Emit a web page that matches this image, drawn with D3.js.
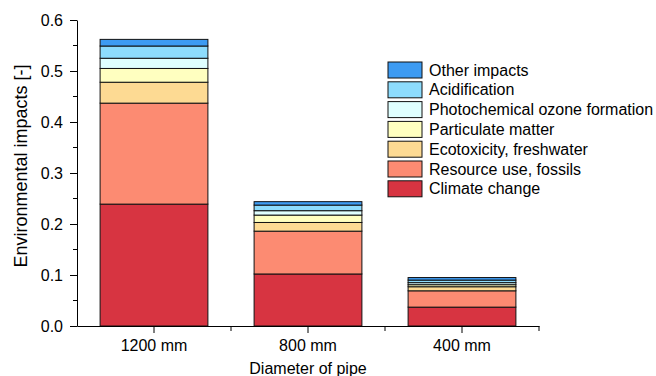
<!DOCTYPE html>
<html>
<head>
<meta charset="utf-8">
<script src="https://cdn.jsdelivr.net/npm/d3@7.9.0/dist/d3.min.js"></script>
<style>
  body { margin: 0; background: #fff; }
  text { font-family: "Liberation Sans", Arial, sans-serif; fill: #000; }
</style>
</head>
<body>
<svg id="chart" width="656" height="376"></svg>
<script>
// Data
const pipes = ['1200 mm', '800 mm', '400 mm'];
const impacts = ['Climate change', 'Resource use, fossils', 'Ecotoxicity, freshwater',
  'Particulate matter', 'Photochemical ozone formation', 'Acidification', 'Other impacts'];
const colors = ['#d73441', '#fc8b72', '#fdda93', '#ffffc0', '#dfffff', '#8ddcfd', '#3d9bf2'];
const climateChange = [0.239, 0.102, 0.037];
const resourceUse = [0.198, 0.084, 0.032];
const ecotoxicity = [0.041, 0.017, 0.008];
const particulate = [0.027, 0.0145, 0.004];
const photochem = [0.020, 0.0086, 0.004];
const acidification = [0.024, 0.011, 0.005];
const otherImpacts = [0.013, 0.0067, 0.005];
const yTicks = [0, 0.1, 0.2, 0.3, 0.4, 0.5, 0.6];

const series = [climateChange, resourceUse, ecotoxicity, particulate, photochem, acidification, otherImpacts];
const rows = pipes.map((p, i) => {
  const r = { pipe: p };
  impacts.forEach((k, j) => { r[k] = series[j][i]; });
  return r;
});

const svg = d3.select('#chart');
const margin = { top: 20, right: 117, bottom: 50, left: 77 };
const width = 656, height = 376;

const x = d3.scaleBand()
  .domain(pipes)
  .range([margin.left, width - margin.right])
  .paddingInner(0.3)
  .paddingOuter(0.15);

const y = d3.scaleLinear()
  .domain([0, 0.6])
  .range([height - margin.bottom, margin.top]);

const stack = d3.stack().keys(impacts)(rows);

// Bars
svg.append('g')
  .selectAll('g')
  .data(stack)
  .join('g')
  .attr('fill', (d, i) => colors[i])
  .selectAll('rect')
  .data(d => d)
  .join('rect')
  .attr('x', d => x(d.data.pipe))
  .attr('width', x.bandwidth())
  .attr('y', d => y(d[1]))
  .attr('height', d => y(d[0]) - y(d[1]))
  .attr('stroke', '#111')
  .attr('stroke-width', 1);

// Y axis
const yAxis = svg.append('g')
  .attr('transform', `translate(${margin.left},0)`)
  .call(d3.axisLeft(y).tickValues(yTicks).tickFormat(d3.format('.1f')).tickSize(7).tickSizeOuter(0));
yAxis.selectAll('.tick text').attr('font-size', 16).attr('dx', '-4');
yAxis.append('g')
  .selectAll('line')
  .data(d3.range(0.05, 0.6, 0.1))
  .join('line')
  .attr('x1', -4).attr('x2', 0)
  .attr('y1', d => y(d)).attr('y2', d => y(d))
  .attr('stroke', '#000');

// X axis
const xAxis = svg.append('g')
  .attr('transform', `translate(0,${height - margin.bottom})`)
  .call(d3.axisBottom(x).tickSize(7).tickSizeOuter(0));
xAxis.selectAll('.tick text').attr('font-size', 16).attr('dy', '0.95em');
const bounds = pipes.map(p => x(p) + x.bandwidth() + x.step() * x.paddingInner() / 2);
bounds[bounds.length - 1] = width - margin.right;
xAxis.append('g')
  .selectAll('line')
  .data(bounds)
  .join('line')
  .attr('x1', d => d).attr('x2', d => d)
  .attr('y1', 0).attr('y2', 5)
  .attr('stroke', '#000');

svg.selectAll('.domain').attr('stroke', '#000');

// Axis titles
svg.append('text')
  .attr('transform', 'translate(27,166) rotate(-90)')
  .attr('text-anchor', 'middle')
  .attr('font-size', 18)
  .text('Environmental impacts [-]');

svg.append('text')
  .attr('x', (margin.left + width - margin.right) / 2)
  .attr('y', 374)
  .attr('text-anchor', 'middle')
  .attr('font-size', 16)
  .text('Diameter of pipe');

// Legend (top item = last series)
const legend = svg.append('g').attr('transform', 'translate(388,62)');
const legendItems = impacts.map((k, i) => ({ k, c: colors[i] })).reverse();
const item = legend.selectAll('g')
  .data(legendItems)
  .join('g')
  .attr('transform', (d, i) => `translate(0,${i * 19.8})`);
item.append('rect')
  .attr('width', 34).attr('height', 16)
  .attr('fill', d => d.c)
  .attr('stroke', '#111');
item.append('text')
  .attr('x', 41).attr('y', 8)
  .attr('dy', '0.35em')
  .attr('font-size', 16)
  .text(d => d.k);
</script>
</body>
</html>
